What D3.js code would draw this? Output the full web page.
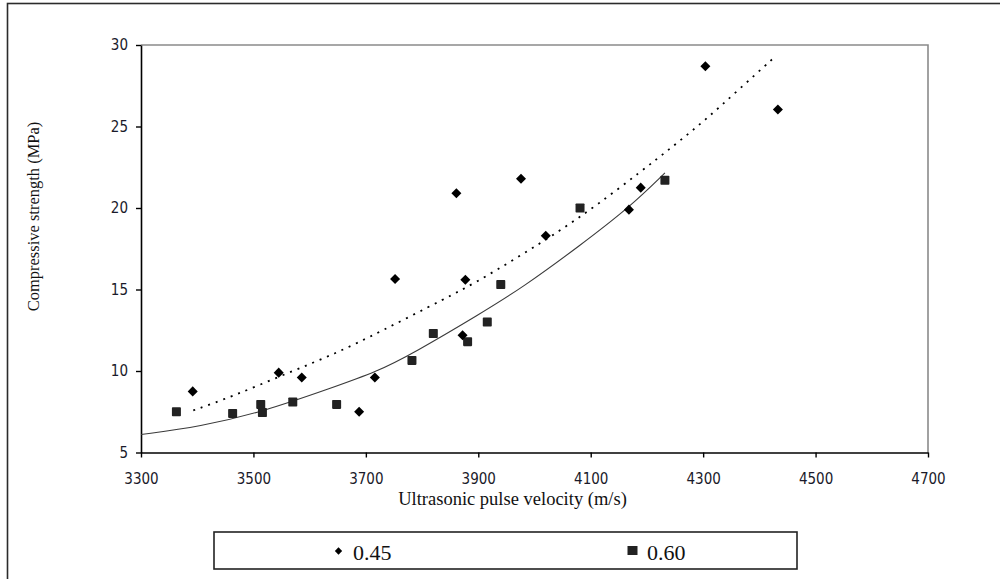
<!DOCTYPE html>
<html>
<head>
<meta charset="utf-8">
<script src="https://cdn.jsdelivr.net/npm/d3@7"></script>
<style>
  html, body { margin: 0; padding: 0; background: #fff; }
  svg { display: block; }
  .tick text { font-family: "DejaVu Sans", sans-serif; font-stretch: condensed; font-size: 15px; fill: #1a1a2a; }
</style>
</head>
<body>
<div id="render"></div>
<script>
// values
const xTicks = [3300, 3500, 3700, 3900, 4100, 4300, 4500, 4700];
const yTicks = [5, 10, 15, 20, 25, 30];
const seriesNames = ['0.45', '0.60'];

const w045X = [3392, 3545, 3586, 3688, 3716, 3752, 3861, 3872, 3877, 3976, 4020, 4168, 4189, 4304, 4433];
const w045Y = [8.75, 9.9, 9.6, 7.5, 9.6, 15.65, 20.9, 12.2, 15.6, 21.8, 18.3, 19.9, 21.25, 28.7, 26.05];

const w060X = [3363, 3463, 3513, 3516, 3570, 3648, 3782, 3820, 3881, 3916, 3940, 4081, 4232];
const w060Y = [7.5, 7.4, 7.95, 7.45, 8.1, 7.95, 10.65, 12.3, 11.8, 13.0, 15.3, 20.0, 21.7];

// trendlines as they appear in the picture (dotted = 0.45, solid = 0.60)
const trend045X = [3393, 3464, 3559, 3645, 3725, 3844, 3894, 3974, 4045, 4110, 4188, 4247, 4304, 4359, 4430];
const trend045Y = [7.58, 8.46, 9.85, 11.05, 12.4, 14.5, 15.4, 17.05, 18.6, 20.15, 22.2, 23.8, 25.4, 27.13, 29.35];
const trend060X = [3300, 3405, 3517, 3642, 3719, 3785, 3903, 3980, 4081, 4170, 4232];
const trend060Y = [6.1, 6.58, 7.5, 9.0, 9.95, 11.1, 13.5, 15.15, 17.7, 20.07, 22.15];

const W = 1000, H = 579;
const plot = { left: 141, right: 928, top: 45, bottom: 452.5 };

const attrs = (sel, _attrs) => {
  for (const k in _attrs) sel.attr(k, _attrs[k]);
  return sel;
};

const svg = attrs(d3.select('#render').append('svg'), { width: W, height: H });

// outer frame (only left and top edges are inside the picture)
attrs(svg.append('rect'), { x: 7.5, y: 3.5, width: 1200, height: 800, fill: 'none', stroke: '#2b2b2b', 'stroke-width': 1.6 });

const x = d3.scaleLinear().domain([3300, 4700]).range([plot.left, plot.right]);
const y = d3.scaleLinear().domain([5, 30]).range([plot.bottom, plot.top]);

// gray top / right edges of plot area
attrs(svg.append('path'), {
  d: `M${plot.left},${plot.top}H${plot.right}V${plot.bottom}`,
  fill: 'none', stroke: '#8a8a8a', 'stroke-width': 1.6
});

const gx = svg.append('g').attr('transform', `translate(0,${plot.bottom})`)
  .call(d3.axisBottom(x).tickValues(xTicks).tickSize(5).tickPadding(16).tickSizeOuter(0).tickFormat(d3.format('d')));
const gy = svg.append('g').attr('transform', `translate(${plot.left},0)`)
  .call(d3.axisLeft(y).tickValues(yTicks).tickSize(5).tickPadding(8).tickSizeOuter(0).tickFormat(d3.format('d')));
[gx, gy].forEach(g => {
  g.select('.domain').attr('stroke', '#000').attr('stroke-width', 1.6);
  g.selectAll('.tick line').attr('stroke', '#000').attr('stroke-width', 1.4);
});

// trendlines
const line = d3.line().x(d => x(d[0])).y(d => y(d[1])).curve(d3.curveBasis);
attrs(svg.append('path'), { d: line(d3.zip(trend060X, trend060Y)), fill: 'none', stroke: '#3a3a3a', 'stroke-width': 1.1 });
attrs(svg.append('path'), { d: line(d3.zip(trend045X, trend045Y)), fill: 'none', stroke: '#000', 'stroke-width': 1.8, 'stroke-dasharray': '2,6' });

// markers
const diamond = d3.symbol().type(d3.symbolDiamond2).size(64);
svg.append('g').selectAll('rect')
  .data(d3.zip(w060X, w060Y))
  .join('rect')
  .attr('x', d => x(d[0]) - 4.5).attr('y', d => y(d[1]) - 4.5)
  .attr('width', 9).attr('height', 9).attr('rx', 0.8)
  .attr('fill', '#222');
svg.append('g').selectAll('path')
  .data(d3.zip(w045X, w045Y))
  .join('path')
  .attr('d', diamond)
  .attr('transform', d => `translate(${x(d[0])},${y(d[1])})`)
  .attr('fill', '#000');

// axis titles
attrs(svg.append('text'), {
  x: 512.5, y: 505, 'text-anchor': 'middle',
  'font-family': '"Liberation Serif", "Times New Roman", serif', 'font-size': 18.5, fill: '#111'
}).text('Ultrasonic pulse velocity (m/s)');

attrs(svg.append('text'), {
  transform: 'translate(39,216.5) rotate(-90)', 'text-anchor': 'middle',
  'font-family': '"Liberation Serif", "Times New Roman", serif', 'font-size': 16.5, fill: '#111'
}).text('Compressive strength (MPa)');

// legend
const legend = svg.append('g');
attrs(legend.append('rect'), { x: 214, y: 532, width: 583, height: 37, fill: '#fff', stroke: '#222', 'stroke-width': 1.6 });
const legendX = [338.5, 632.5];
legend.append('path').attr('d', d3.symbol().type(d3.symbolDiamond2).size(34))
  .attr('transform', `translate(${legendX[0]},551)`).attr('fill', '#000');
attrs(legend.append('rect'), { x: legendX[1] - 5, y: 546, width: 10, height: 9, fill: '#222' });
legend.selectAll('text.lab')
  .data(seriesNames)
  .join('text')
  .attr('class', 'lab')
  .attr('x', (d, i) => legendX[i] + 14.5)
  .attr('y', 560)
  .attr('font-family', '"Liberation Serif", "Times New Roman", serif')
  .attr('font-size', 22)
  .attr('fill', '#111')
  .text(d => d);
</script>
</body>
</html>
